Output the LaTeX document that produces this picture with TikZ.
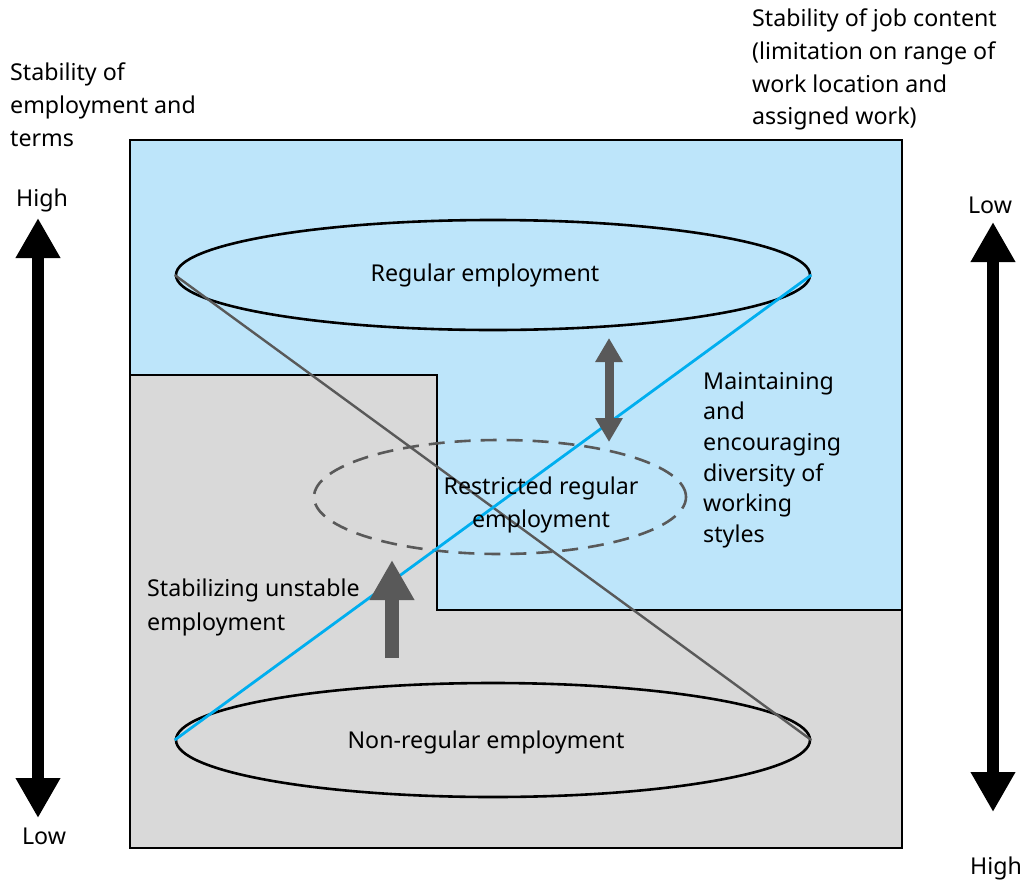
\documentclass[tikz,border=0pt]{standalone}
\usepackage{fontspec}
\setmainfont{Noto Sans}
\usetikzlibrary{shapes.geometric,arrows.meta}
\definecolor{regblue}{RGB}{189,229,250}
\definecolor{nonreggray}{RGB}{217,217,217}
\definecolor{linkblue}{RGB}{0,174,239}
\definecolor{darkgray}{RGB}{89,89,89}
\begin{document}
\begin{tikzpicture}[
		x=1pt, y=-1pt,
		every node/.style={font=\fontsize{23.2}{32.6}\selectfont, inner sep=0pt},
		txt/.style={align=left, anchor=north west},
		ring/.style={draw, ellipse, line width=2.6pt, inner sep=0pt},
		fatarrow/.style={line width=12pt, {Triangle[width=42pt,length=40pt]}-{Triangle[width=42pt,length=40pt]}},
		grayarrow/.style={darkgray, line width=9pt, {Triangle[width=26pt,length=24pt]}-{Triangle[width=26pt,length=24pt]}}
		]
		\useasboundingbox (0,0) rectangle (1027,886);
		% areas
		\fill[nonreggray] (130,140) rectangle (902,848);
		\fill[regblue] (130,140) -- (902,140) -- (902,610) -- (437,610) -- (437,375) -- (130,375) -- cycle;
		\draw[line width=2.6pt] (130,375) -- (437,375) -- (437,610) -- (902,610);
		\draw[line width=2.6pt] (130,140) rectangle (902,848);

		% ellipses
		\node[ring, minimum width=634pt, minimum height=110pt] (regular) at (493,275) {};
		\node[ring, minimum width=634pt, minimum height=114pt] (nonregular) at (493,740) {};
		\node[draw=darkgray, dash pattern=on 16pt off 10pt, line width=2.6pt, ellipse, minimum width=372pt, minimum height=114pt] (restricted) at (500,497) {};

		\draw[darkgray, line width=2.4pt] (regular.west) -- (nonregular.east);
		\draw[linkblue, line width=2.8pt] (nonregular.west) -- (regular.east);

		% labels
		\node at (485,275) {Regular employment};
		\node at (486,742) {Non-regular employment};
		\node[align=center] at (541,505) {Restricted regular\\employment};
		\node[txt] at (10,63) {Stability of\\employment and\\terms};
		\node[txt] at (752,9) {Stability of job content\\(limitation on range of\\work location and\\assigned work)};
		\node[txt, font=\fontsize{23.2}{30.6}\selectfont] at (703,372) {Maintaining\\and\\encouraging\\diversity of\\working\\styles};
		\node[txt, font=\fontsize{23.2}{34}\selectfont] at (147,579) {Stabilizing unstable\\employment};
		\node (highL) at (42,200) {High};
		\node (lowL) at (44,836) {Low};
		\node (lowR) at (990,205) {Low};
		\node (highR) at (996,868) {High};

		% arrows
		\coordinate (aTop) at (38,218);
		\coordinate (aBot) at (38,818);
		\coordinate (bTop) at (993,222);
		\coordinate (bBot) at (993,812);
		\draw[fatarrow] (aTop) -- (aBot);
		\draw[fatarrow] (bTop) -- (bBot);
		\coordinate (dTop) at (609,338);
		\coordinate (dBot) at (609,442);
		\draw[grayarrow] (dTop) -- (dBot);
		\coordinate (uFoot) at (392,658);
		\coordinate (uTip) at (392,560);
		\draw[darkgray, line width=14pt, -{Triangle[width=42pt,length=40pt]}] (uFoot) -- (uTip);
	\end{tikzpicture}
\end{document}
